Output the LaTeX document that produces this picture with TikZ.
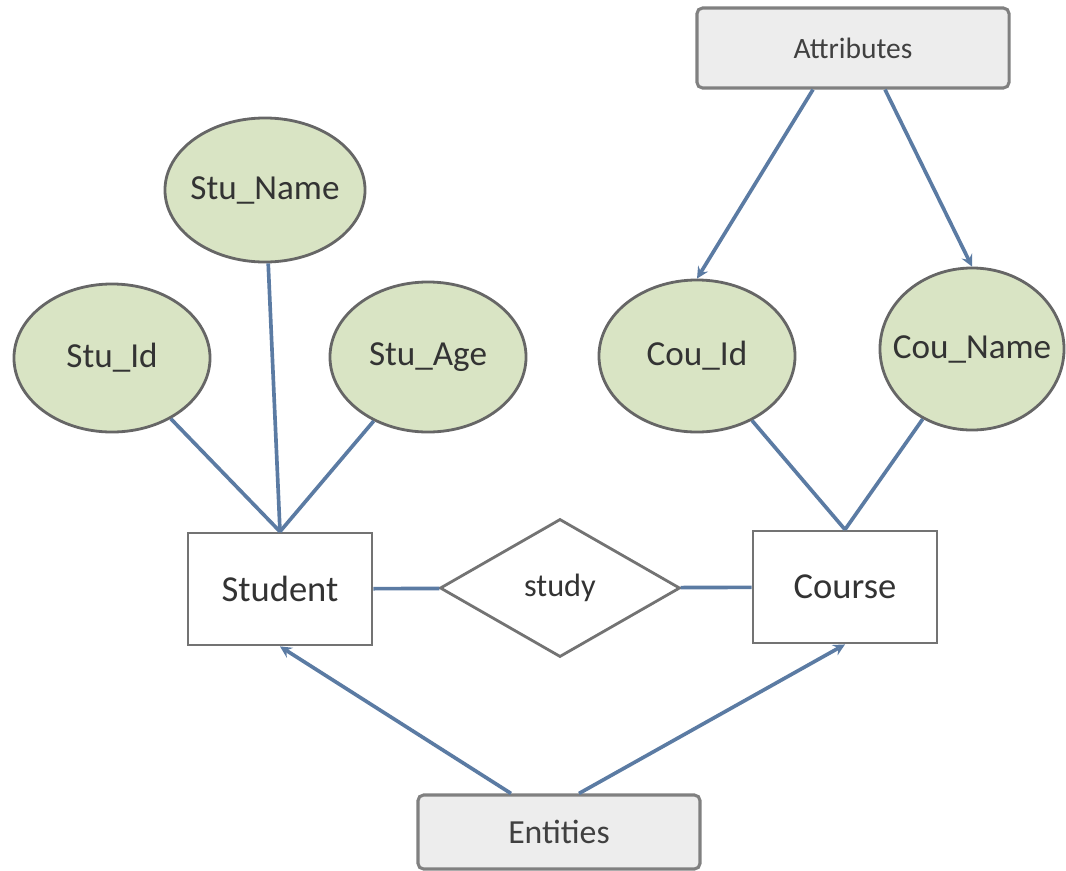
\documentclass[tikz,border=0pt]{standalone}
\usepackage{fontspec}
\setmainfont{Carlito}
\usetikzlibrary{shapes.geometric}
\newcommand{\attxt}[1]{\makebox[0pt]{#1}}
\begin{document}
\begin{tikzpicture}[x=0.025cm,y=-0.025cm]

\definecolor{edge}{HTML}{5B7BA3}
\definecolor{attr}{HTML}{D9E4C4}
\tikzstyle{entity} = [
	draw=black!55, fill=white, rectangle, line width=2pt,
	minimum width=4.6cm, minimum height=2.8cm,
	font=\fontsize{26}{30}\selectfont, text=black!80 ];
\tikzstyle{attrib} = [
	draw=black!60, fill=attr, ellipse, line width=2pt,
	minimum width=4.9cm, minimum height=3.7cm,
	font=\fontsize{25}{29}\selectfont, text=black!80 ];
\tikzstyle{label} = [
	draw=black!50, fill=black!7, rectangle, rounded corners=4pt, line width=2.2pt,
	font=\fontsize{21}{25}\selectfont, text=black!75 ];
\tikzstyle{link} = [draw=edge, line width=2.6pt];
\useasboundingbox (0,0) rectangle (1066,870);

\node[label,minimum width=7.8cm,minimum height=2cm] (at) at (853,48) {Attributes};
\node[label,minimum width=7.05cm,minimum height=1.85cm,font=\fontsize{24}{28}\selectfont] (en) at (559,832) {Entities};

\node[attrib] (sid) at (112,358) {\attxt{Stu\_Id}};
\node[attrib,minimum width=5cm,minimum height=3.6cm] (snm) at (265,190) {\attxt{Stu\_Name}};
\node[attrib,minimum height=3.75cm] (sag) at (428,357) {\attxt{Stu\_Age}};
\node[attrib,minimum height=3.8cm] (cid) at (697,356) {\attxt{Cou\_Id}};
\node[attrib,minimum width=4.6cm,minimum height=4.05cm] (cnm) at (972,349) {\attxt{Cou\_Name}};

\node[entity] (st) at (280,589) {Student};
\node[entity] (co) at (845,587) {Course};
\node[draw=black!55, line width=2pt, diamond, minimum width=6cm, minimum height=3.45cm,
	inner sep=0pt, font=\fontsize{23}{27}\selectfont, text=black!80] (dm) at (560,588) {study};

\draw[link] (sid) -- (st.north);
\draw[link] (snm) -- (st.north);
\draw[link] (sag) -- (st.north);
\draw[link] (cid) -- (co.north);
\draw[link] (cnm) -- (co.north);
\draw[link] (st) -- (dm);
\draw[link] (dm) -- (co);

\draw[link,->,>=stealth] ([xshift=-1cm]at.south) -- (cid.north);
\draw[link,->,>=stealth] ([xshift=0.8cm]at.south) -- (cnm.north);
\draw[link,->,>=stealth] ([xshift=-1.2cm]en.north) -- (st.south);
\draw[link,->,>=stealth] ([xshift=0.5cm]en.north) -- (co.south);

\end{tikzpicture}
\end{document}
